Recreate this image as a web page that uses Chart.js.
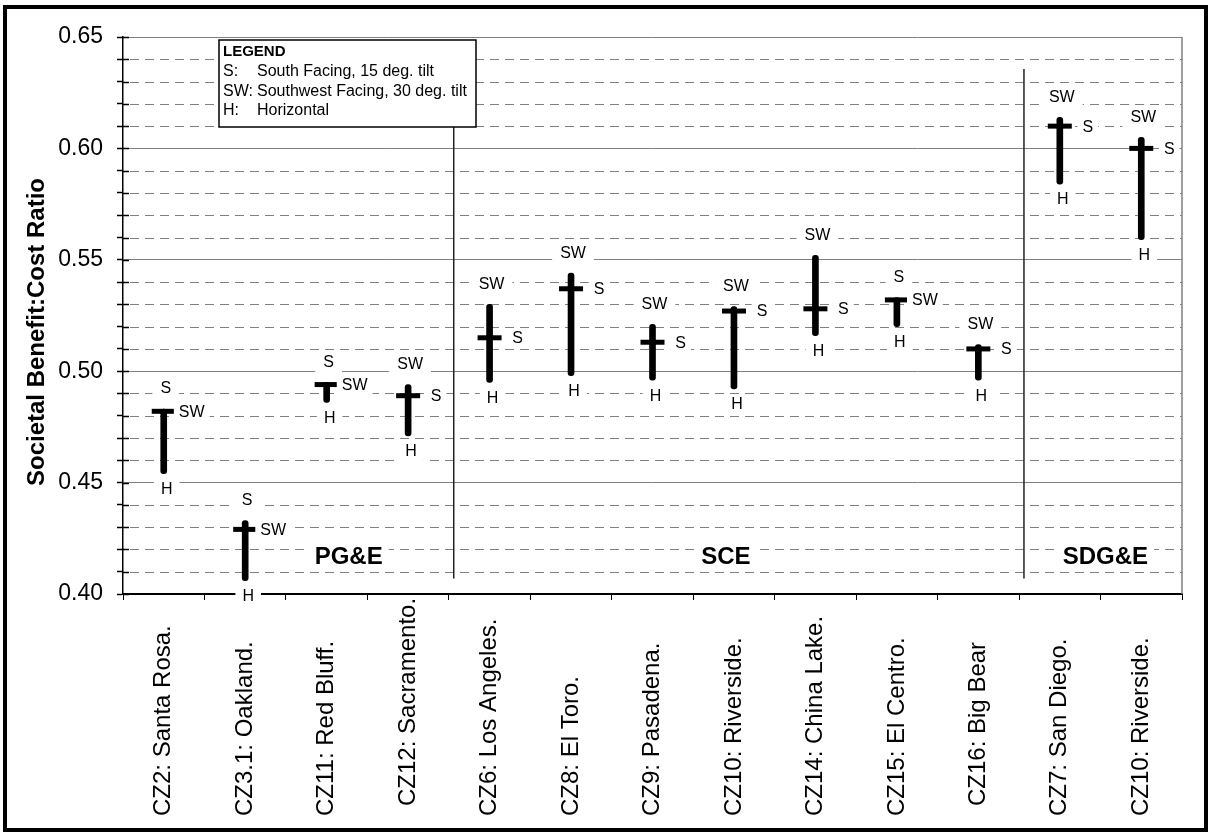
<!DOCTYPE html>
<html>
<head>
<meta charset="utf-8">
<title>Societal Benefit:Cost Ratio</title>
<script src="https://cdn.jsdelivr.net/npm/chart.js"></script>
<style>
  html, body { margin: 0; padding: 0; background: #fff; }
  #wrap { width: 1209px; height: 834px; }
</style>
</head>
<body>
<div id="wrap"><canvas id="chart" width="1209" height="834"></canvas></div>
<script>
// data
const categories = ['CZ2: Santa Rosa.', 'CZ3.1: Oakland.', 'CZ11: Red Bluff.', 'CZ12: Sacramento.',
  'CZ6: Los Angeles.', 'CZ8: El Toro.', 'CZ9: Pasadena.', 'CZ10: Riverside.', 'CZ14: China Lake.',
  'CZ15: El Centro.', 'CZ16: Big Bear', 'CZ7: San Diego.', 'CZ10: Riverside.'];
const sValues  = [0.483, 0.433, 0.495, 0.489, 0.515, 0.537, 0.513, 0.527, 0.528, 0.533, 0.510, 0.610, 0.600];
const swValues = [0.482, 0.429, 0.494, 0.494, 0.530, 0.544, 0.521, 0.529, 0.552, 0.532, 0.512, 0.614, 0.605];
const hValues  = [0.454, 0.406, 0.486, 0.471, 0.495, 0.498, 0.496, 0.492, 0.516, 0.520, 0.496, 0.584, 0.559];
const yTickLabels = ['0.40', '0.45', '0.50', '0.55', '0.60', '0.65'];
const groupNames = ['PG&E', 'SCE', 'SDG&E'];
const legendLines = [['S:', 'South Facing, 15 deg. tilt'], ['SW:', 'Southwest Facing, 30 deg. tilt'], ['H:', 'Horizontal']];

const highValues = sValues.map((s, i) => Math.max(s, swValues[i]));
const midValues = sValues.map((s, i) => Math.min(s, swValues[i]));
const topNames = sValues.map((s, i) => s >= swValues[i] ? 'S' : 'SW');
const sideNames = topNames.map(n => n === 'S' ? 'SW' : 'S');

const FONT = '"Liberation Sans", Arial, sans-serif';

function isMajor(v) {
  return yTickLabels.some(t => Math.abs(parseFloat(t) - v) < 1e-6);
}

function boxedText(ctx, text, x, y, font, padX) {
  ctx.font = font;
  const w = ctx.measureText(text).width;
  ctx.fillStyle = '#fff';
  ctx.fillRect(x - w / 2 - padX, y - 10, w + padX * 2, 20);
  ctx.fillStyle = '#000';
  ctx.textAlign = 'center';
  ctx.textBaseline = 'middle';
  ctx.fillText(text, x, y);
}

// minor dashed grid, cross ticks, plot frame
const gridExtras = {
  id: 'gridExtras',
  beforeDatasetsDraw(chart) {
    const {ctx, chartArea: a, scales: {y}} = chart;
    ctx.save();
    y.ticks.forEach(t => {
      const py = Math.round(y.getPixelForValue(t.value)) + 0.5;
      if (!isMajor(t.value)) {
        ctx.strokeStyle = '#808080';
        ctx.lineWidth = 1;
        ctx.setLineDash([9, 6]);
        ctx.beginPath(); ctx.moveTo(a.left + 7, py); ctx.lineTo(a.right, py); ctx.stroke();
      }
      ctx.setLineDash([]);
      ctx.strokeStyle = '#000';
      ctx.lineWidth = 1.5;
      ctx.beginPath(); ctx.moveTo(a.left, py); ctx.lineTo(a.left + 6, py); ctx.stroke();
    });
    ctx.restore();
  }
};

// labels, dividers, legend, axis texts
const annotations = {
  id: 'annotations',
  afterDatasetsDraw(chart) {
    const {ctx, chartArea: a, scales: {x, y}} = chart;
    const step = x.getPixelForValue(1) - x.getPixelForValue(0);
    ctx.save();

    // group dividers
    ctx.strokeStyle = '#222';
    ctx.lineWidth = 1.5;
    [3.5, 10.5].forEach(b => {
      const px = x.getPixelForValue(0) + (b + 0.06) * step;
      ctx.beginPath();
      ctx.moveTo(px, y.getPixelForValue(0.6356));
      ctx.lineTo(px, y.getPixelForValue(0.407));
      ctx.stroke();
    });

    // group names
    [2.27, 6.9, 11.56].forEach((pos, i) => {
      const px = x.getPixelForValue(0) + pos * step;
      boxedText(ctx, groupNames[i], px, y.getPixelForValue(0.4166), 'bold 24px ' + FONT, 6);
    });

    // point labels
    categories.forEach((c, i) => {
      const px = x.getPixelForValue(i);
      const f = '16px ' + FONT;
      boxedText(ctx, topNames[i], px + 2, y.getPixelForValue(highValues[i]) - 20, f, 8);
      boxedText(ctx, sideNames[i], px + 28, y.getPixelForValue(midValues[i]) + 1, f, 5);
      boxedText(ctx, 'H', px + 3, y.getPixelForValue(hValues[i]) + 16, f, 7);
    });

    // right edge of the plot area
    ctx.strokeStyle = '#808080';
    ctx.lineWidth = 1.5;
    ctx.beginPath(); ctx.moveTo(a.right, a.top); ctx.lineTo(a.right, a.bottom); ctx.stroke();

    // legend box
    ctx.fillStyle = '#fff';
    ctx.fillRect(219, 40, 257, 87);
    ctx.strokeStyle = '#000';
    ctx.lineWidth = 1.5;
    ctx.strokeRect(219, 40, 257, 87);
    ctx.fillStyle = '#000';
    ctx.textAlign = 'left';
    ctx.textBaseline = 'middle';
    ctx.font = 'bold 15px ' + FONT;
    ctx.fillText('LEGEND', 223, 52);
    ctx.font = '16px ' + FONT;
    legendLines.forEach((l, i) => {
      ctx.fillText(l[0], 223, 72 + i * 19.5);
      ctx.fillText(l[1], 257, 72 + i * 19.5);
    });

    // y title
    ctx.save();
    ctx.translate(37, 332);
    ctx.rotate(-Math.PI / 2);
    ctx.textAlign = 'center';
    ctx.font = 'bold 24px ' + FONT;
    ctx.fillText('Societal Benefit:Cost Ratio', 0, 0);
    ctx.restore();

    // category labels, start-aligned at the bottom (two sit a little higher)
    const lift = {3: 10, 10: 10};
    ctx.font = '24px ' + FONT;
    categories.forEach((c, i) => {
      ctx.save();
      ctx.translate(x.getPixelForValue(i), 816 - (lift[i] || 0));
      ctx.rotate(-Math.PI / 2);
      ctx.textAlign = 'left';
      ctx.fillText(c, 0, 0);
      ctx.restore();
    });

    // outer frame
    ctx.strokeStyle = '#000';
    ctx.lineWidth = 4;
    ctx.strokeRect(5, 7, 1201, 823);
    ctx.restore();
  }
};

new Chart(document.getElementById('chart'), {
  data: {
    labels: categories,
    datasets: [
      {
        type: 'line',
        label: 'mid',
        data: midValues,
        showLine: false,
        pointStyle: 'line',
        pointRadius: 12,
        pointHoverRadius: 12,
        pointBorderWidth: 5,
        pointBorderColor: '#000',
        borderColor: '#000'
      },
      {
        type: 'bar',
        label: 'range',
        data: hValues.map((h, i) => [h, highValues[i]]),
        backgroundColor: '#000',
        barThickness: 6,
        borderRadius: 3,
        borderSkipped: false
      }
    ]
  },
  options: {
    responsive: false,
    animation: false,
    layout: { padding: { top: 37, right: 27, left: 0, bottom: 0 } },
    plugins: { legend: { display: false }, tooltip: { enabled: false } },
    scales: {
      x: {
        type: 'category',
        offset: true,
        afterFit(s) { s.height = 240; },
        ticks: { display: false, autoSkip: false },
        grid: { drawOnChartArea: false, drawTicks: true, tickLength: 6, tickColor: '#000', offset: true },
        border: { color: '#000', width: 2 }
      },
      y: {
        min: 0.40,
        max: 0.65,
        afterFit(s) { s.width = 123; },
        ticks: {
          stepSize: 0.01,
          autoSkip: false,
          padding: 14,
          color: '#000',
          font: { family: FONT, size: 23 },
          callback(v) {
            return yTickLabels.find(t => Math.abs(parseFloat(t) - v) < 1e-6) || '';
          }
        },
        grid: {
          color: c => isMajor(c.tick.value) ? '#808080' : 'rgba(0,0,0,0)',
          lineWidth: 1,
          tickLength: 6,
          tickColor: '#000',
          tickWidth: 1.5
        },
        border: { color: '#000', width: 1.5 }
      }
    }
  },
  plugins: [gridExtras, annotations]
});
</script>
</body>
</html>
